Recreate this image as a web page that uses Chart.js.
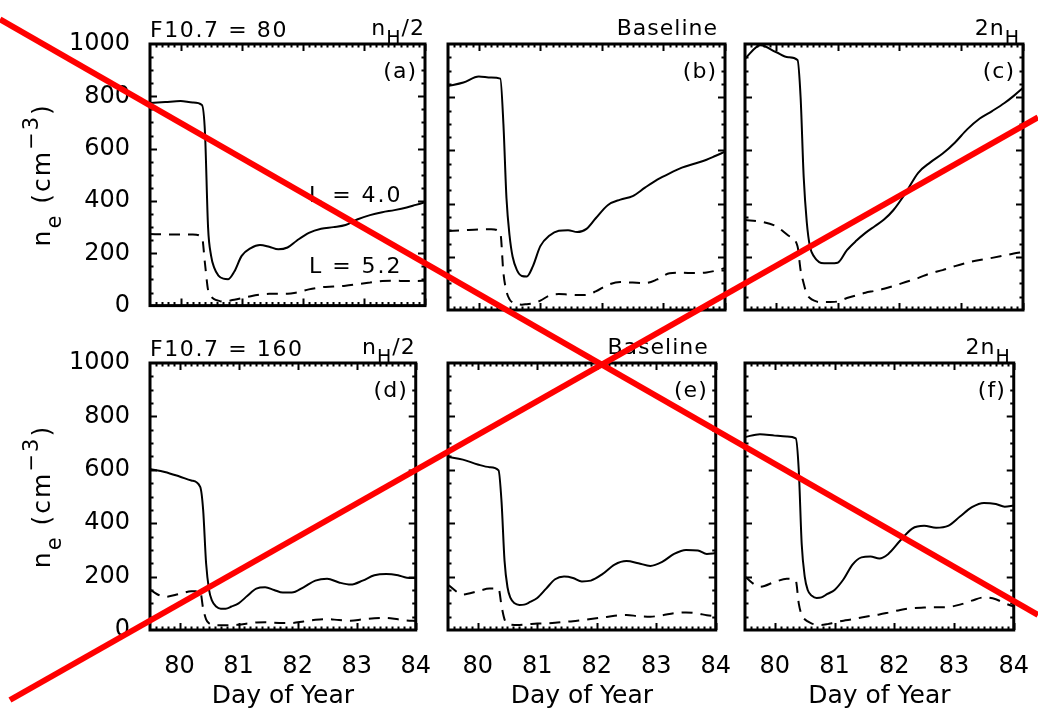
<!DOCTYPE html>
<html>
<head>
<meta charset="utf-8">
<script src="https://cdn.jsdelivr.net/npm/chart.js@4/dist/chart.umd.min.js"></script>
<style>
html, body { margin: 0; padding: 0; background: #fff; }
#page { position: relative; width: 1038px; height: 715px; overflow: hidden; }
#page canvas { position: absolute; }
</style>
</head>
<body>
<div id="page"></div>
<script>

// day of year sampled along every curve
const days = [79.5, 79.75, 80.0, 80.2, 80.35, 80.4, 80.45, 80.5, 80.55, 80.62, 80.7, 80.78, 80.88, 81.0, 81.15, 81.3, 81.45, 81.6, 81.75, 81.9, 82.1, 82.3, 82.5, 82.7, 82.9, 83.1, 83.3, 83.5, 83.7, 83.85, 84.0];

// F10.7 = 80, L = 4.0 (solid) and L = 5.2 (dashed)
const solidA = [774, 778, 782, 776, 767, 660, 300, 190, 145, 115, 103, 101, 130, 190, 220, 232, 225, 215, 222, 248, 278, 294, 300, 308, 330, 346, 357, 365, 375, 385, 395];
const dashedA = [274, 272, 272, 272, 262, 160, 60, 35, 25, 19, 15, 18, 22, 28, 36, 42, 45, 45, 45, 50, 62, 70, 73, 76, 82, 88, 94, 95, 94, 94, 95];
const solidB = [842, 855, 878, 874, 870, 700, 420, 280, 200, 150, 128, 126, 165, 240, 280, 298, 300, 293, 305, 345, 395, 415, 428, 460, 490, 514, 535, 550, 565, 580, 595];
const dashedB = [297, 300, 303, 304, 290, 140, 70, 40, 28, 22, 20, 22, 25, 35, 55, 60, 58, 56, 57, 70, 95, 105, 103, 101, 115, 138, 140, 139, 141, 148, 158];
const solidC = [945, 995, 970, 950, 940, 800, 500, 330, 240, 200, 180, 176, 176, 178, 225, 260, 290, 315, 340, 375, 440, 515, 555, 588, 630, 680, 720, 748, 778, 805, 835];
const dashedC = [338, 332, 315, 280, 240, 150, 100, 60, 45, 35, 30, 30, 30, 32, 45, 55, 65, 72, 80, 90, 105, 120, 138, 150, 165, 178, 188, 196, 205, 212, 218];

// F10.7 = 160
const solidD = [603, 592, 575, 560, 536, 450, 250, 150, 110, 88, 80, 80, 88, 100, 128, 155, 160, 150, 140, 140, 160, 185, 192, 178, 170, 185, 205, 210, 205, 196, 195];
const dashedD = [150, 124, 135, 145, 145, 80, 40, 25, 20, 18, 18, 18, 18, 20, 24, 28, 29, 27, 26, 26, 32, 38, 41, 37, 35, 40, 44, 45, 40, 36, 34];
const solidE = [648, 638, 620, 610, 598, 480, 260, 160, 120, 100, 94, 95, 105, 120, 155, 190, 200, 195, 182, 185, 210, 245, 258, 250, 240, 255, 285, 300, 298, 285, 288];
const dashedE = [169, 133, 145, 155, 155, 90, 40, 25, 20, 19, 19, 20, 22, 24, 25, 27, 30, 33, 37, 41, 47, 53, 56, 52, 50, 55, 63, 66, 62, 55, 52];
const solidF = [723, 733, 728, 725, 718, 600, 320, 200, 150, 128, 120, 122, 135, 150, 190, 245, 272, 275, 268, 285, 335, 380, 390, 383, 390, 425, 460, 476, 472, 462, 466];
const dashedF = [199, 162, 180, 192, 185, 100, 55, 40, 32, 24, 20, 19, 22, 28, 35, 40, 47, 53, 58, 65, 75, 82, 84, 85, 86, 95, 110, 122, 115, 100, 88];

// tick labels
const xTicks = [80, 81, 82, 83, 84];
const yTicks = [0, 200, 400, 600, 800, 1000];

// panel texts
const panelLetters = ["(a)", "(b)", "(c)", "(d)", "(e)", "(f)"];
const fluxTitles = ["F10.7 = 80", "", "", "F10.7 = 160", "", ""];
const caseTitles = [
    [{ t: "n" }, { t: "H", sub: true }, { t: "/2" }],
    [{ t: "Baseline" }],
    [{ t: "2n" }, { t: "H", sub: true }],
    [{ t: "n" }, { t: "H", sub: true }, { t: "/2" }],
    [{ t: "Baseline" }],
    [{ t: "2n" }, { t: "H", sub: true }]
];
const shellLabels = ["L = 4.0", "L = 5.2"];
const shellLabelDay = [82.1, 82.1];
const shellLabelNe = [395, 124];
const yTitle = [{ t: "n" }, { t: "e", sub: true }, { t: " (cm" }, { t: "\u22123", sup: true }, { t: ")" }];

// red cross, in page fractions
const crossAx = [0, 1];
const crossAy = [0.027, 0.86];
const crossBx = [0.0096, 1];
const crossBy = [0.979, 0.164];


// layout of the 2 x 3 grid (page pixels)
const boxLeft = [150, 448, 745];
const boxRight = [425, 725, 1023];
const boxTop = [44, 363];
const boxBottom = [310, 630];

const FONT = "DejaVu Sans";


function drawRich(ctx, segs, x, y, align, size, spacing) {

    const parts = segs.map(s => {
        const fs = (s.sub || s.sup) ? Math.round(size * 0.85) : size;
        ctx.font = fs + "px '" + FONT + "'";
        ctx.letterSpacing = spacing + "px";
        return {
            t: s.t,
            fs,
            w: ctx.measureText(s.t).width,
            dy: s.sub ? size * 0.42 : (s.sup ? -size * 0.5 : 0)
        };
    });

    const total = parts.reduce((a, p) => a + p.w, 0);

    let cx = x;
    if (align === "right") cx = x - total;
    if (align === "center") cx = x - total / 2;

    ctx.textAlign = "left";
    ctx.textBaseline = "alphabetic";
    ctx.fillStyle = "#000";

    parts.forEach(p => {
        ctx.font = p.fs + "px '" + FONT + "'";
        ctx.letterSpacing = spacing + "px";
        ctx.fillText(p.t, cx, y + p.dy);
        cx += p.w;
    });
}


const framePlugin = {

    id: "frame",

    afterDatasetsDraw(chart) {

        const { ctx, chartArea: a, scales: { x, y } } = chart;

        ctx.save();
        ctx.strokeStyle = "#000";
        ctx.lineWidth = 2;
        ctx.beginPath();

        for (let v = 79.6; v < 84; v += 0.1) {
            const px = Math.round(x.getPixelForValue(v)) + 0.5;
            const major = Math.abs(v - Math.round(v)) < 0.01;
            const len = major ? 7 : 3.5;
            ctx.moveTo(px, a.bottom);
            ctx.lineTo(px, a.bottom - len);
            ctx.moveTo(px, a.top);
            ctx.lineTo(px, a.top + len);
        }

        for (let v = 50; v < 1000; v += 50) {
            const py = Math.round(y.getPixelForValue(v)) + 0.5;
            const len = v % 200 === 0 ? 7 : 3.5;
            ctx.moveTo(a.left, py);
            ctx.lineTo(a.left + len, py);
            ctx.moveTo(a.right, py);
            ctx.lineTo(a.right - len, py);
        }

        ctx.stroke();

        ctx.lineWidth = 3;
        ctx.strokeRect(a.left, a.top, a.right - a.left, a.bottom - a.top);
        ctx.restore();
    }
};


const textPlugin = {

    id: "panelText",

    afterDraw(chart, args, opts) {

        const { ctx, chartArea: a, scales: { x, y } } = chart;

        ctx.save();

        if (opts.flux) {
            drawRich(ctx, [{ t: opts.flux }], a.left, a.top - 7, "left", 22, 1.6);
        }

        drawRich(ctx, opts.caseTitle, a.right - (opts.caseInset || 0), a.top - 9, "right", 22, 1);

        drawRich(ctx, [{ t: opts.letter }], a.right - 8, a.top + 34, "right", 22, 1);

        if (opts.shells) {
            shellLabels.forEach((s, i) => {
                drawRich(
                    ctx,
                    [{ t: s }],
                    x.getPixelForValue(shellLabelDay[i]),
                    y.getPixelForValue(shellLabelNe[i]),
                    "left",
                    22,
                    2
                );
            });
        }

        if (opts.yTitle) {
            ctx.translate(a.left - 100, (a.top + a.bottom) / 2);
            ctx.rotate(-Math.PI / 2);
            drawRich(ctx, yTitle, 0, 0, "center", 25, 2);
        }

        ctx.restore();
    }
};


function renderPanel(page, index, solid, dashed) {

    const row = Math.floor(index / 3);
    const col = index % 3;

    const L = col === 0 ? 150 : 20;
    const R = 20;
    const T = row === 0 ? 44 : 45;
    const B = row === 0 ? 22 : 85;

    const left = boxLeft[col] - L;
    const top = boxTop[row] - T;

    const canvas = document.createElement("canvas");
    canvas.width = boxRight[col] - boxLeft[col] + L + R;
    canvas.height = boxBottom[row] - boxTop[row] + T + B;
    canvas.style.left = left + "px";
    canvas.style.top = top + "px";
    page.appendChild(canvas);

    const showY = col === 0;
    const showX = row === 1;

    new Chart(canvas, {

        type: "line",

        data: {
            datasets: [
                {
                    data: days.map((d, i) => ({ x: d, y: solid[i] })),
                    borderColor: "#000",
                    borderWidth: 2,
                    pointRadius: 0,
                    cubicInterpolationMode: "monotone",
                    fill: false
                },
                {
                    data: days.map((d, i) => ({ x: d, y: dashed[i] })),
                    borderColor: "#000",
                    borderWidth: 2,
                    borderDash: [11, 8],
                    pointRadius: 0,
                    cubicInterpolationMode: "monotone",
                    fill: false
                }
            ]
        },

        options: {

            responsive: false,
            animation: false,
            events: [],

            layout: {
                padding: { top: T, right: R, left: 0, bottom: 0 }
            },

            scales: {

                x: {
                    type: "linear",
                    min: 79.5,
                    max: 84,
                    afterBuildTicks: s => { s.ticks = xTicks.map(v => ({ value: v })); },
                    afterFit: s => { s.height = B; },
                    grid: { display: false },
                    border: { display: false },
                    ticks: {
                        display: showX,
                        autoSkip: false,
                        maxRotation: 0,
                        padding: 14,
                        color: "#000",
                        font: { family: FONT, size: 24 },
                        callback: v => String(v)
                    },
                    title: {
                        display: showX,
                        text: "Day of Year",
                        color: "#000",
                        font: { family: FONT, size: 25 },
                        padding: { top: 0, bottom: 4 }
                    }
                },

                y: {
                    type: "linear",
                    min: 0,
                    max: 1000,
                    afterBuildTicks: s => { s.ticks = yTicks.map(v => ({ value: v })); },
                    afterFit: s => { s.width = L; },
                    grid: { display: false },
                    border: { display: false },
                    ticks: {
                        display: showY,
                        padding: 12,
                        color: "#000",
                        font: { family: FONT, size: 24 },
                        callback: v => String(v)
                    }
                }
            },

            plugins: {
                legend: { display: false },
                tooltip: { enabled: false },
                panelText: {
                    flux: fluxTitles[index],
                    caseTitle: caseTitles[index],
                    caseInset: col === 1 ? 7 : (col === 2 ? 3 : 0),
                    letter: panelLetters[index],
                    shells: index === 0,
                    yTitle: showY
                }
            }
        },

        plugins: [framePlugin, textPlugin]
    });
}


function renderCross(page) {

    const canvas = document.createElement("canvas");
    canvas.width = 1038;
    canvas.height = 715;
    canvas.style.left = "0px";
    canvas.style.top = "0px";
    page.appendChild(canvas);

    const line = (xs, ys) => ({
        data: xs.map((v, i) => ({ x: v, y: ys[i] })),
        borderColor: "#ff0000",
        borderWidth: 6,
        borderCapStyle: "butt",
        pointRadius: 0,
        fill: false
    });

    new Chart(canvas, {
        type: "line",
        data: {
            datasets: [line(crossAx, crossAy), line(crossBx, crossBy)]
        },
        options: {
            responsive: false,
            animation: false,
            events: [],
            layout: { padding: 0 },
            scales: {
                x: { type: "linear", min: 0, max: 1, display: false },
                y: { type: "linear", min: 0, max: 1, reverse: true, display: false }
            },
            plugins: {
                legend: { display: false },
                tooltip: { enabled: false }
            }
        }
    });
}


const page = document.getElementById("page");

renderPanel(page, 0, solidA, dashedA);
renderPanel(page, 1, solidB, dashedB);
renderPanel(page, 2, solidC, dashedC);
renderPanel(page, 3, solidD, dashedD);
renderPanel(page, 4, solidE, dashedE);
renderPanel(page, 5, solidF, dashedF);

renderCross(page);

</script>
</body>
</html>
